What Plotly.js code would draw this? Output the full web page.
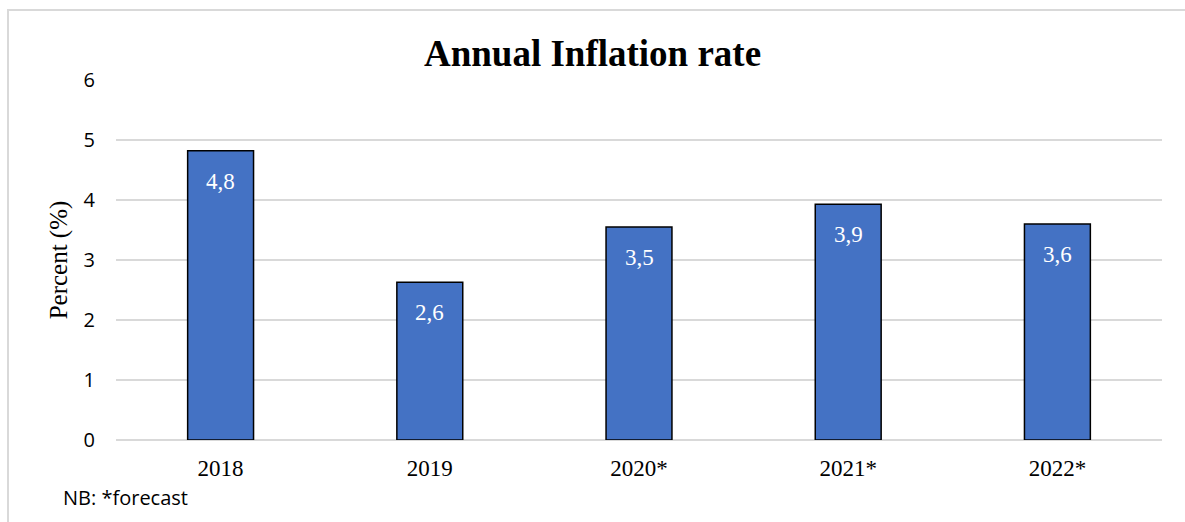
<!DOCTYPE html>
<html>
<head>
<meta charset="utf-8">
<script src="https://cdn.plot.ly/plotly-3.0.1.min.js"></script>
<style>
  html, body { margin: 0; padding: 0; background: #ffffff; overflow: hidden; }
  #wrap { position: relative; width: 1185px; height: 522px; overflow: hidden; }
  #frame { position: absolute; left: 7px; top: 9px; width: 1300px; height: 700px; border: 2px solid #d9d9d9; box-sizing: border-box; }
  #chart { position: absolute; left: 0; top: 0; width: 1185px; height: 522px; }
</style>
</head>
<body>
<div id="wrap">
  <div id="frame"></div>
  <div id="chart"></div>
</div>
<script>
// Data
const categories = ["2018", "2019", "2020*", "2021*", "2022*"];
const inflation = [4.82, 2.63, 3.55, 3.93, 3.6];
const valueLabels = ["4,8", "2,6", "3,5", "3,9", "3,6"];
const yTicks = [0, 1, 2, 3, 4, 5, 6];

const serif = "Liberation Serif, Times New Roman, serif";
const sans = "Open Sans, Liberation Sans, sans-serif";

const positions = categories.map((c, i) => i);

const trace = {
  type: "bar",
  x: positions,
  y: inflation,
  width: 0.315,
  marker: { color: "#4472C4", line: { color: "#000000", width: 1.5 } },
  hoverinfo: "none"
};

const annotations = positions.map((p, i) => ({
  x: p, y: inflation[i], xref: "x", yref: "y",
  text: valueLabels[i], showarrow: false,
  yanchor: "top", yshift: -16,
  font: { family: serif, size: 23, color: "#ffffff" }
}));

annotations.push({
  xref: "paper", yref: "paper", x: -0.053, y: -0.16,
  xanchor: "left", yanchor: "middle",
  text: "NB: *forecast", showarrow: false,
  font: { family: sans, size: 20, color: "#000000" }
});

const layout = {
  width: 1185, height: 522,
  margin: { l: 116, r: 23, t: 80, b: 82, pad: 0 },
  paper_bgcolor: "rgba(0,0,0,0)",
  plot_bgcolor: "rgba(0,0,0,0)",
  showlegend: false,
  title: {
    text: "<b>Annual Inflation rate</b>",
    font: { family: serif, size: 37, color: "#000000" },
    x: 0.5, xanchor: "center",
    y: 1 - 53 / 522, yref: "container", yanchor: "middle"
  },
  xaxis: {
    type: "linear",
    range: [-0.5, categories.length - 0.5],
    tickvals: positions,
    ticktext: categories,
    showgrid: false,
    showline: false,
    zeroline: false,
    ticks: "",
    ticklabelstandoff: 12,
    tickfont: { family: serif, size: 23, color: "#000000" }
  },
  yaxis: {
    range: [0, 6],
    tickvals: yTicks,
    ticktext: yTicks.map(String),
    showgrid: true,
    gridcolor: "#d9d9d9",
    gridwidth: 1.5,
    zeroline: true,
    zerolinecolor: "#d9d9d9",
    zerolinewidth: 1.5,
    showline: false,
    ticks: "",
    ticklabelstandoff: 20,
    tickfont: { family: sans, size: 20, color: "#000000" },
    title: {
      text: "Percent (%)",
      font: { family: serif, size: 25, color: "#000000" },
      standoff: 8
    }
  },
  annotations: annotations
};

Plotly.newPlot("chart", [trace], layout, { displayModeBar: false, staticPlot: true });
</script>
</body>
</html>
